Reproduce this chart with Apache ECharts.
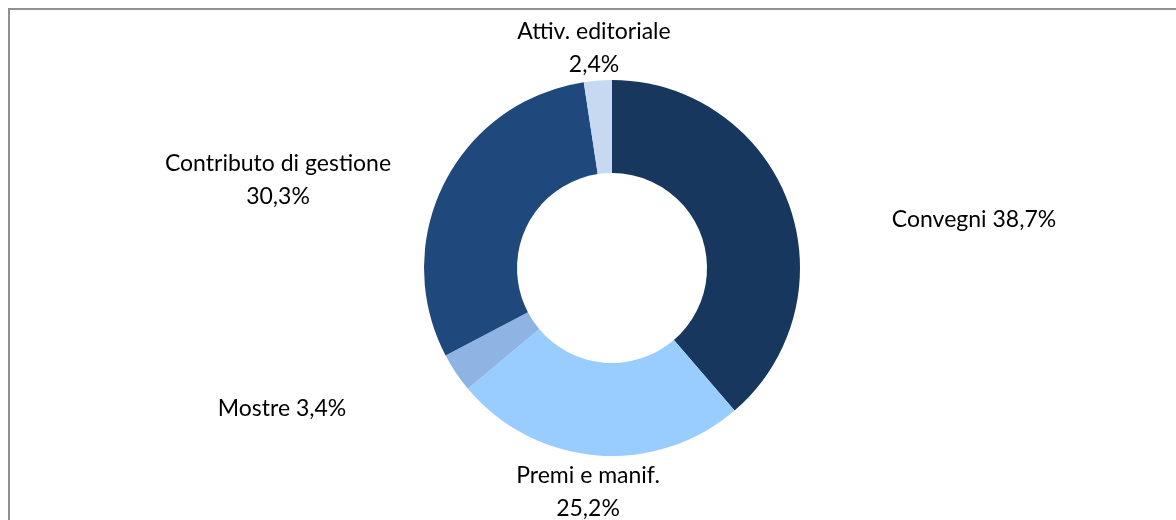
<!DOCTYPE html>
<html>
<head>
<meta charset="utf-8">
<script src="https://cdn.jsdelivr.net/npm/echarts@6/dist/echarts.min.js"></script>
<style>
  html, body { margin: 0; padding: 0; background: #fff; }
  #chart { width: 1176px; height: 520px; }
</style>
</head>
<body>
<div id="chart"></div>
<script>
// Ripartizione dei costi per attività (quote percentuali)
const categories = ['Convegni', 'Premi e manif.', 'Mostre', 'Contributo di gestione', 'Attiv. editoriale'];
const shares = [38.7, 25.2, 3.4, 30.3, 2.4];
const sliceColors = ['#17375E', '#99CCFF', '#8EB4E3', '#1F497D', '#C6D9F1'];
// label text: single line or name above the value
const labelInline = [true, false, true, false, false];
// label anchor (centre of the text block) for each slice
const labelAnchors = [[974, 220], [588, 492], [282, 409], [278, 180], [594, 48]];

const fmtPct = v => v.toFixed(1).replace('.', ',') + '%';

const chart = echarts.init(document.getElementById('chart'), null, { renderer: 'canvas' });

chart.setOption({
  animation: false,
  backgroundColor: '#ffffff',
  graphic: [{
    type: 'rect',
    shape: { x: 9, y: 9, width: 1200, height: 600 },
    style: { fill: 'none', stroke: '#8f8f8f', lineWidth: 2 },
    silent: true
  }],
  series: [{
    type: 'pie',
    center: [612, 268],
    radius: [95, 188],
    startAngle: 90,
    clockwise: true,
    avoidLabelOverlap: false,
    labelLine: { show: false },
    label: {
      show: true,
      position: 'outside',
      fontFamily: 'Lato, "Open Sans", sans-serif',
      fontSize: 23,
      lineHeight: 33,
      color: '#000000',
      align: 'center',
      formatter: p => labelInline[p.dataIndex]
        ? p.name + ' ' + fmtPct(shares[p.dataIndex])
        : p.name + '\n' + fmtPct(shares[p.dataIndex])
    },
    labelLayout: p => ({
      x: labelAnchors[p.dataIndex][0],
      y: labelAnchors[p.dataIndex][1],
      align: 'center',
      verticalAlign: 'middle'
    }),
    data: categories.map((name, i) => ({
      name,
      value: shares[i],
      itemStyle: { color: sliceColors[i] }
    }))
  }]
});
</script>
</body>
</html>
